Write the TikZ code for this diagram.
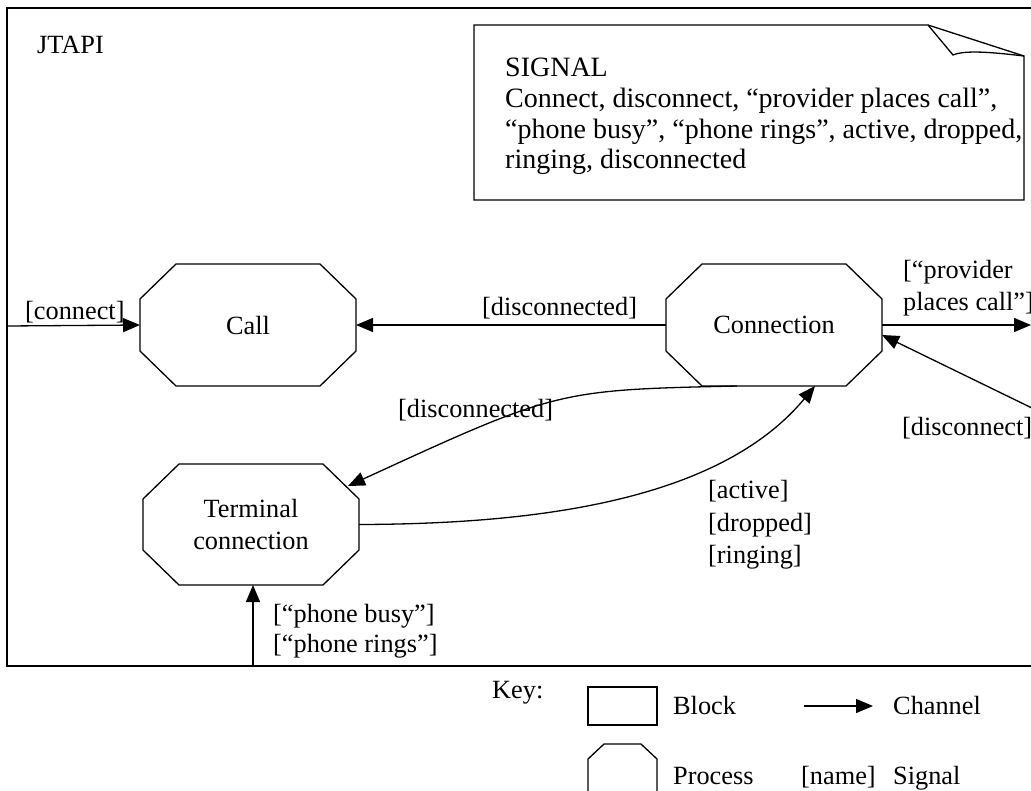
\documentclass[tikz,border=0pt]{standalone}
\usepackage{fontspec}
\setmainfont{Liberation Serif}
\usetikzlibrary{arrows.meta,calc}
\tikzset{
  lbl/.style={inner sep=0pt, anchor=base west, font=\fontsize{26.3}{31}\selectfont},
  notetxt/.style={inner sep=0pt, anchor=base west, font=\fontsize{28}{31}\selectfont},
  proc/.style={inner sep=0pt, outer sep=0pt, minimum width=216pt, minimum height=122pt, align=center, font=\fontsize{26.3}{32}\selectfont},
  ln/.style={line width=1.3pt},
  chan/.style={line width=1.3pt, -{Triangle[length=17pt,width=14pt]}},
}
\newcommand\octo[3]{\draw[ln] ([xshift=#2]#1.north west) -- ([xshift=-#2]#1.north east) -- ([yshift=-#3]#1.north east) -- ([yshift=#3]#1.south east) -- ([xshift=-#2]#1.south east) -- ([xshift=#2]#1.south west) -- ([yshift=#3]#1.south west) -- ([yshift=-#3]#1.north west) -- cycle;}
\begin{document}
\begin{tikzpicture}[x=1pt,y=-1pt]
\useasboundingbox (0,0) rectangle (1031,790);
% frame block
\node[draw, line width=2pt, inner sep=0pt, outer sep=0pt, minimum width=1050pt, minimum height=658pt, anchor=north west] (jtapi) at (7,8) {};
\node[lbl] (jtapilbl) at (37,53) {JTAPI};
% signal note
\draw[ln] (474,25) -- (928,25) -- (1024,56) -- (1024,200) -- (474,200) -- cycle;
\draw[ln] (928,25) -- (953,55) .. controls (965,50) and (990,52) .. (1024,56);
\node[notetxt] (s1) at (505,76) {SIGNAL};
\node[notetxt] (s2) at (505,107) {Connect, disconnect, “provider places call”,};
\node[notetxt] (s3) at (505,138) {“phone busy”, “phone rings”, active, dropped,};
\node[notetxt] (s4) at (505,168) {ringing, disconnected};
% processes
\node[proc] (call) at (248,325) {Call};
\octo{call}{36pt}{35pt}
\node[proc] (conn) at (774,325) {Connection};
\octo{conn}{36pt}{35pt}
\node[proc, minimum height=121pt] (term) at (251,524.5) {Terminal\\connection};
\octo{term}{36pt}{35pt}
% channels
\coordinate (cin) at (7,326);
\draw[chan] (cin) -- (call.west);
\node[lbl] (l1) at (25,319) {[connect]};
\draw[chan] (conn.west) -- (call.east);
\node[lbl] (l2) at (482,315) {[disconnected]};
\coordinate (pout) at (1031,325);
\draw[chan] (conn.east) -- (pout);
\node[lbl] (l3) at (903,278) {[“provider};
\node[lbl] (l4) at (903,310) {places call”]};
\coordinate (din) at (1034,409);
\draw[chan] (din) -- ([yshift=-10pt]conn.east);
\node[lbl] (l5) at (902,435) {[disconnect]};
\draw[chan] ([xshift=-37pt]conn.south) .. controls (557,390) .. ([xshift=-11pt,yshift=-22pt]term.north east);
\node[lbl] (l6) at (398,417) {[disconnected]};
\draw[chan] (term.east) .. controls (540,524) and (720,500) .. ([xshift=41pt]conn.south);
\node[lbl] (l7) at (708,498) {[active]};
\node[lbl] (l8) at (708,531) {[dropped]};
\node[lbl] (l9) at (708,563) {[ringing]};
\coordinate (pin) at (253,666);
\draw[chan] (pin) -- ([xshift=2pt]term.south);
\node[lbl] (l10) at (273,622) {[“phone busy”]};
\node[lbl] (l11) at (273,652) {[“phone rings”]};
% key
\node[lbl] (key) at (492,698) {Key:};
\node[draw, ln, inner sep=0pt, outer sep=0pt, minimum width=69pt, minimum height=38pt, anchor=north west] (kb) at (588,687) {};
\node[lbl] (kbl) at (673,714) {Block};
\coordinate (ka1) at (804,706);
\coordinate (ka2) at (873,706);
\draw[chan] (ka1) -- (ka2);
\node[lbl] (kcl) at (893,714) {Channel};
\node[inner sep=0pt, outer sep=0pt, minimum width=69pt, minimum height=72pt, anchor=north west] (kp) at (588,744) {};
\octo{kp}{16pt}{15pt}
\node[lbl] (kpl) at (673,784) {Process};
\node[lbl] (kn) at (801,784) {[name]};
\node[lbl] (ksl) at (893,784) {Signal};
\end{tikzpicture}
\end{document}
